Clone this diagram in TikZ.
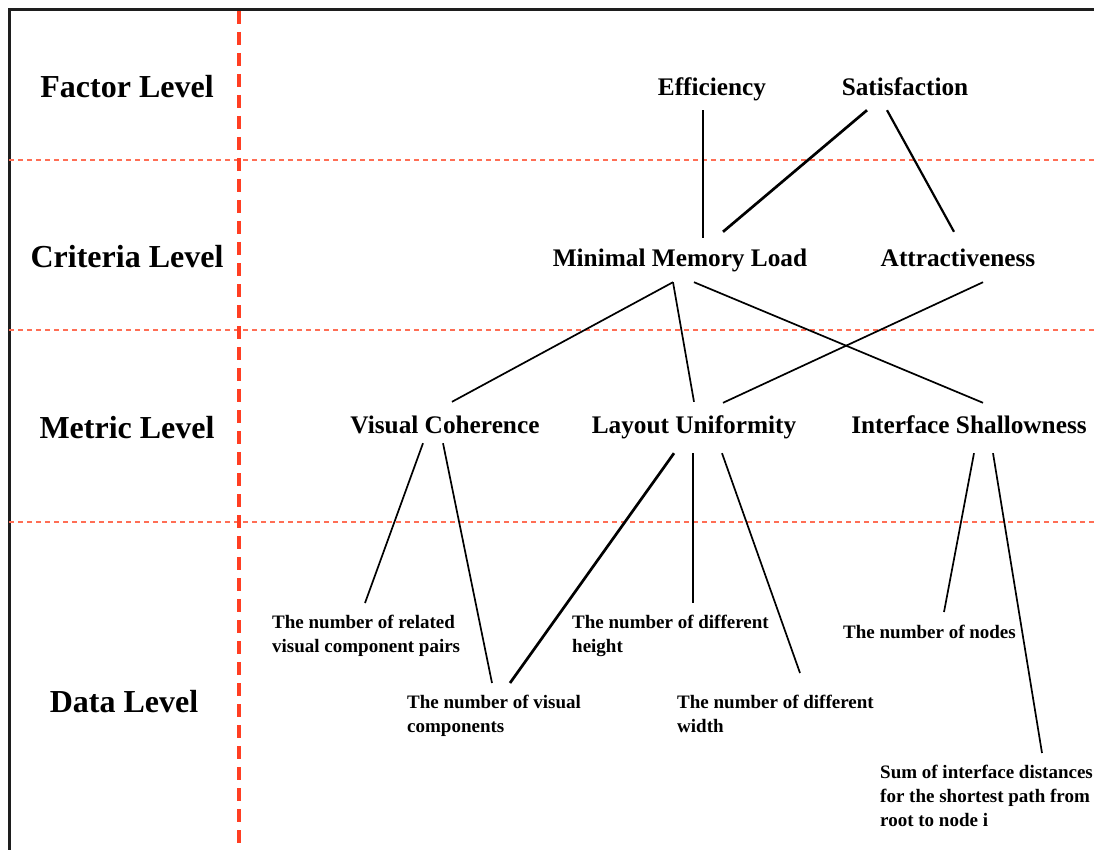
\documentclass[tikz,border=0pt]{standalone}
\usepackage{fontspec}
\setmainfont{Liberation Serif}
\definecolor{guide}{RGB}{255,62,34}
\definecolor{band}{RGB}{255,110,85}
\definecolor{frameline}{RGB}{30,30,30}
\begin{document}
\begin{tikzpicture}[x=1pt,y=-1pt,
  levellabel/.style={font=\fontsize{32}{36}\selectfont\bfseries, anchor=base, inner sep=0pt},
  item/.style={font=\fontsize{25.3}{30}\selectfont\bfseries, anchor=base, inner sep=0pt},
  top/.style={item, text height=20pt, text depth=14pt},
  mid/.style={item, text height=32pt, text depth=16pt},
  low/.style={item, text height=31pt, text depth=20pt},
  datum/.style={font=\fontsize{19}{24}\selectfont\bfseries, align=left, anchor=north west, inner sep=0pt},
  link/.style={draw=black, line width=1.7pt},
  heavylink/.style={draw=black, line width=2.7pt},
  divider/.style={draw=guide, line width=3.2pt, dash pattern=on 13pt off 8pt},
  band line/.style={draw=band, line width=1.3pt, dash pattern=on 5pt off 4pt}]

\useasboundingbox (0,0) rectangle (1094,850);
\clip (0,0) rectangle (1094,850);

% outer frame (top and left edges)
\draw[frameline, line width=3pt] (9,850) -- (9,10) -- (1094,10);

% level bands and the label column divider
\draw[band line] (9,160) -- (1094,160);
\draw[band line] (9,330) -- (1094,330);
\draw[band line] (9,522) -- (1094,522);
\draw[divider] (239,11) -- (239,850);

% level names
\node[levellabel] (lf) at (127,98)  {Factor Level};
\node[levellabel] (lc) at (127,268) {Criteria Level};
\node[levellabel] (lm) at (127,438) {Metric Level};
\node[levellabel] (ld) at (124,712) {Data Level};

% factors
\node[top] (eff) at (712,96) {Efficiency};
\node[top] (sat) at (905,96) {Satisfaction};

% criteria
\node[mid] (mml)  at (680,266) {Minimal Memory Load};
\node[mid] (attr) at (958,266) {Attractiveness};

% metrics
\node[low, text depth=10pt] (vc) at (445,433) {Visual Coherence};
\node[low] (lu) at (694,433) {Layout Uniformity};
\node[low] (is) at (969,433) {Interface Shallowness};

% data
\node[datum] (rel) at (272,615) {The number of related\\visual component pairs};
\node[datum] (vis) at (407,695) {The number of visual\\components};
\node[datum] (hgt) at (572,615) {The number of different\\height};
\node[datum] (wid) at (677,695) {The number of different\\width};
\node[datum] (nod) at (843,625) {The number of nodes};
\node[datum] (sum) at (880,765) {Sum of interface distances\\for the shortest path from\\root to node i};

% factor -> criteria
\draw[link]      ([shift={(-9,0)}]eff.south)  -- ([shift={(23,4)}]mml.north);
\draw[heavylink] ([shift={(-38,0)}]sat.south) -- ([shift={(43,-2)}]mml.north);
\draw[link, line width=2.2pt] ([shift={(-18,0)}]sat.south) -- ([shift={(-4,-2)}]attr.north);

% criteria -> metrics
\draw[link] ([shift={(-7,0)}]mml.south)  -- ([shift={(7,0)}]vc.north);
\draw[link] ([shift={(-7,0)}]mml.south)  -- ([shift={(0,0)}]lu.north);
\draw[link] ([shift={(14,0)}]mml.south)  -- ([shift={(14,1)}]is.north);
\draw[link] ([shift={(25,0)}]attr.south) -- ([shift={(29,1)}]lu.north);

% metrics -> data
\draw[link]      ([shift={(-22,0)}]vc.south) -- ([shift={(93,-12)}]rel.north west);
\draw[link]      ([shift={(-2,0)}]vc.south)  -- ([shift={(85,-12)}]vis.north west);
\draw[heavylink] ([shift={(-20,0)}]lu.south) -- ([shift={(103,-12)}]vis.north west);
\draw[link]      ([shift={(-1,0)}]lu.south)  -- ([shift={(121,-12)}]hgt.north west);
\draw[link]      ([shift={(28,0)}]lu.south)  -- ([shift={(123,-22)}]wid.north west);
\draw[link]      ([shift={(5,0)}]is.south)   -- ([shift={(101,-13)}]nod.north west);
\draw[link]      ([shift={(24,0)}]is.south)  -- ([shift={(162,-12)}]sum.north west);
\end{tikzpicture}
\end{document}
